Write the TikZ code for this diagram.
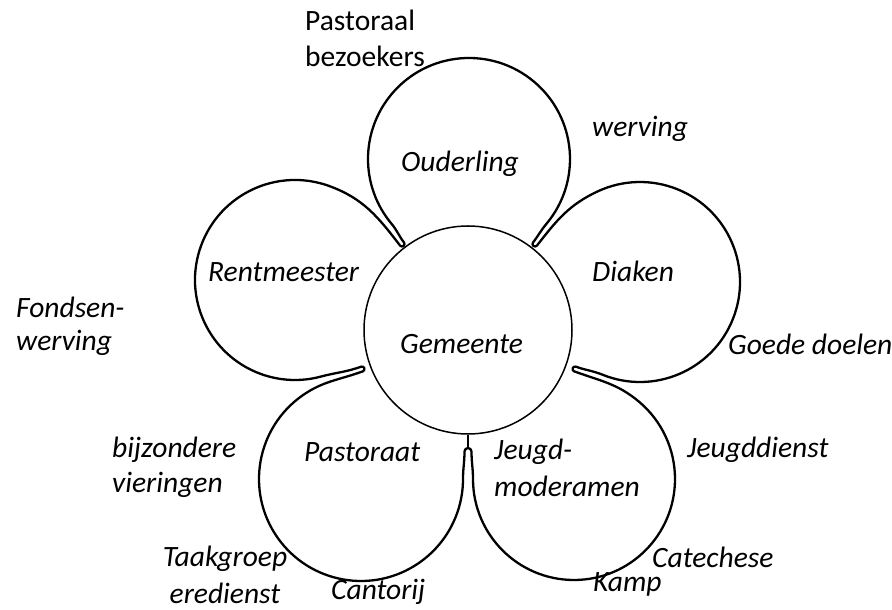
\documentclass[tikz,border=0pt]{standalone}
\usepackage{fontspec}
\setmainfont{Carlito}
\usetikzlibrary{calc}
\begin{document}
\begin{tikzpicture}[x=1pt,y=1pt,
  lbl/.style={font=\fontsize{29.5}{36}\selectfont\itshape, inner sep=0pt, anchor=base west, align=left},
  upr/.style={font=\fontsize{29.5}{36}\selectfont, inner sep=0pt, anchor=base west, align=left},
  outline/.style={line width=2.3pt, line join=round},
  ring/.style={circle, draw, line width=1.5pt, minimum size=208pt, inner sep=0pt, fill=white},
]
\useasboundingbox (0,0) rectangle (892,610);
% petal centres
\coordinate (PR) at (640,328);
\coordinate (PT) at (469,451);
\coordinate (PL) at (295,330);
\coordinate (PBL) at (361,131);
\coordinate (PBR) at (574,131);
% gap tips
\coordinate (G1) at (535,366);
\coordinate (G2) at (402,366);
\coordinate (G3) at (362,241);
\coordinate (G4) at (468,158.5);
\coordinate (G5) at (575,241);
\coordinate (G4top) at ($(G4)+(90:3.5)$);

\draw[outline]
 ($(PR)+(248:100)$) arc[start angle=248, end angle=475, radius=100]
 to[out=205,in=52] ($(G1)+(-38:2.5)$) arc[start angle=-38,end angle=-218,radius=2.5]
 to[out=52,in=230] ($(PT)+(-40:101)$) arc[start angle=-40,end angle=220,radius=101]
 to[out=310,in=127.5] ($(G2)+(37.5:2.5)$) arc[start angle=37.5,end angle=-142.5,radius=2.5]
 to[out=127.5,in=340] ($(PL)+(70:100)$) arc[start angle=70,end angle=285,radius=100]
 to[out=15,in=200] ($(G3)+(110:2.5)$) arc[start angle=110,end angle=-70,radius=2.5]
 to[out=200,in=35] ($(PBL)+(125:102)$) arc[start angle=125,end angle=360,radius=102]
 to[out=90,in=270] ($(G4)+(180:3.5)$) arc[start angle=180,end angle=0,radius=3.5]
 to[out=270,in=90] ($(PBR)+(180:101)$) arc[start angle=180,end angle=410,radius=101]
 to[out=140,in=340] ($(G5)+(250:2.5)$) arc[start angle=250,end angle=70,radius=2.5]
 to[out=340,in=158] ($(PR)+(248:100)$) -- cycle;

\node[ring] (gem) at (468,280) {};
\draw[line width=1.3pt] (G4top) -- (gem.south);

\node[lbl] (gemtxt) at (400,256) {Gemeente};
\node[lbl] (ouder) at (401,438) {Ouderling};
\node[lbl] (diak) at (592,328) {Diaken};
\node[lbl] (rent) at (208,328) {Rentmeester};
\node[lbl] (past) at (304,148) {Pastoraat};
\node[lbl, font=\fontsize{29.5}{37}\selectfont\itshape] (jeugd) at (494,113) {Jeugd-\\moderamen};

\node[upr] (pasbez) at (305,543) {Pastoraal\\bezoekers};
\node[lbl] (werv) at (592,473) {werving};
\node[lbl, font=\fontsize{29.5}{33}\selectfont\itshape] (fonds) at (16,259) {Fondsen-\\werving};
\node[lbl] (goede) at (728,255) {Goede doelen};
\node[lbl] (jd) at (687,152) {Jeugddienst};
\node[lbl] (cat) at (652,42) {Catechese};
\node[lbl] (kamp) at (593,18) {Kamp};
\node[lbl, font=\fontsize{29.5}{35}\selectfont\itshape] (bijz) at (112,117) {bijzondere\\vieringen};
\node[lbl, anchor=base, align=center, font=\fontsize{29.5}{37}\selectfont\itshape] (taak) at (225,6) {Taakgroep\\eredienst};
\node[lbl] (cant) at (331,10) {Cantorij};
\end{tikzpicture}
\end{document}
